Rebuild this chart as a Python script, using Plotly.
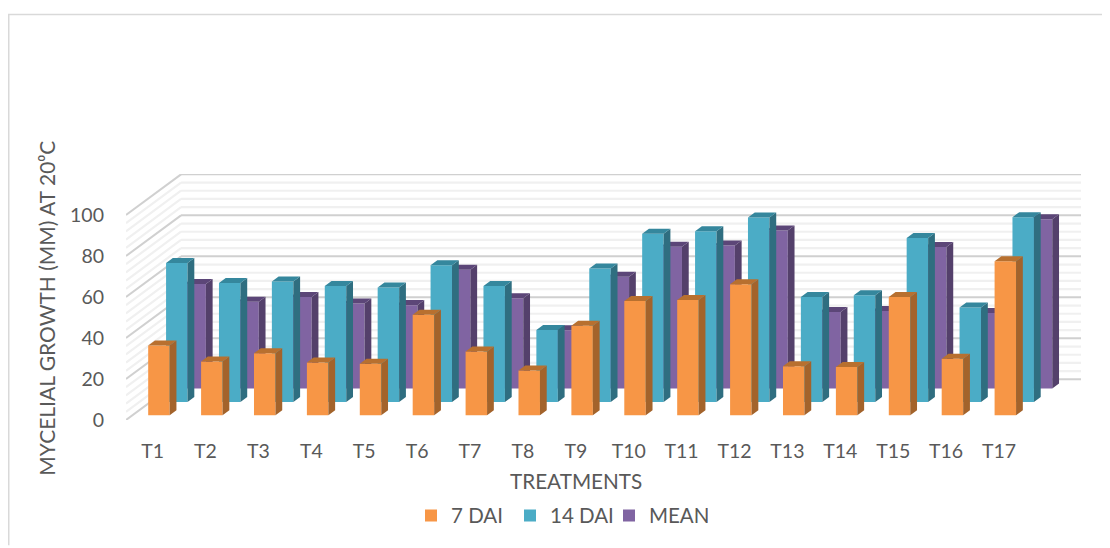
import plotly.graph_objects as go

categories = [f"T{i}" for i in range(1, 18)]
dai_7 = [34.0, 26.3, 30.3, 25.8, 25.2, 49.0, 31.1, 21.9, 43.7, 55.8, 56.3, 63.9, 23.9, 23.6, 57.7, 27.6, 75.2]
dai_14 = [67.8, 58.1, 58.8, 56.6, 55.9, 66.7, 56.6, 35.2, 65.2, 82.1, 83.4, 90.0, 51.3, 52.1, 80.0, 46.2, 90.2]
mean = [51.0, 42.3, 44.7, 41.5, 40.7, 58.0, 44.0, 28.5, 54.5, 69.2, 69.8, 77.1, 37.4, 37.8, 69.0, 36.9, 82.6]
y_major = [0, 20, 40, 60, 80, 100]
y_minor = [v for v in range(0, 100, 4) if v % 20]

PAGE = 8  # the page's own margin round the figure
W, H = 1110 - PAGE, 548 - PAGE
L, R, T, B = 126.0 - PAGE, 1081.0 - PAGE, 173.8 - PAGE, 421.7 - PAGE   # plot area in figure pixels
DX, DY = 1.04, 19.84    # full floor depth, in axis units (x, y)
BAR_W = 0.406
THICK = 0.123           # bar depth as a fraction of the floor depth
FONT = "Lato"
TXT = "#595959"

series = [
    dict(name="7 DAI", vals=dai_7, depth=0.115, ax="3", front="#F79646", side="#A3632B", top="#B8702F"),
    dict(name="14 DAI", vals=dai_14, depth=0.44, ax="2", front="#4BACC6", side="#2F6E80", top="#35879D"),
    dict(name="MEAN", vals=mean, depth=0.773, ax="", front="#8064A2", side="#54406B", top="#5C4678"),
]

fig = go.Figure()
for s in series:
    xa, ya = "x" + s["ax"], "y" + s["ax"]
    off_x, base = s["depth"] * DX, s["depth"] * DY
    tx, ty = THICK * DX, THICK * DY
    xs = [i + off_x for i in range(len(categories))]
    fig.add_trace(go.Bar(
        x=xs, y=s["vals"], base=base, width=BAR_W, name=s["name"], xaxis=xa, yaxis=ya,
        marker=dict(color=s["front"], line=dict(width=0)),
        customdata=categories, hovertemplate="%{customdata}: %{y}<extra>" + s["name"] + "</extra>",
    ))
    sx, sy, qx, qy = [], [], [], []
    for x, v in zip(xs, s["vals"]):
        r, l = x + BAR_W / 2, x - BAR_W / 2
        sx += [r, r + tx, r + tx, r, r, None]
        sy += [base, base + ty, base + ty + v, base + v, base, None]
        qx += [l, r, r + tx, l + tx, l, None]
        qy += [base + v, base + v, base + v + ty, base + v + ty, base + v, None]
    for px, py, col in ((sx, sy, s["side"]), (qx, qy, s["top"])):
        fig.add_trace(go.Scatter(
            x=px, y=py, mode="lines", fill="toself", fillcolor=col, line=dict(width=0, color=col),
            xaxis=xa, yaxis=ya, showlegend=False, hoverinfo="skip",
        ))

x_range = [(126.0 - 152.6) / 52.9, (1081.0 - 152.6) / 52.9]
y_range = [0, 120]

shapes = []
for vals, col, lw in ((y_minor, "#F0F0F0", 2.2), (y_major, "#D0D0D0", 2)):
    for v in vals:
        line = dict(color=col, width=lw)
        shapes.append(dict(type="line", xref="x", yref="y", layer="below", line=line,
                           x0=x_range[0] + DX, x1=x_range[1], y0=v + DY, y1=v + DY))
        shapes.append(dict(type="line", xref="x", yref="y", layer="below", line=line,
                           x0=x_range[0], x1=x_range[0] + DX, y0=v, y1=v + DY))

def px_x(p):
    return (p - PAGE - L) / (R - L)

def px_y(p):
    return (B - (p - PAGE)) / (B - T)

fig.update_layout(
    width=W, height=H, autosize=False,
    margin=dict(l=L, r=W - R, t=T, b=H - B, pad=0),
    paper_bgcolor="white", plot_bgcolor="white",
    barmode="overlay",
    font=dict(family=FONT, size=19.5, color=TXT),
    xaxis=dict(range=x_range, tickmode="array", tickvals=list(range(len(categories))), ticktext=categories,
               showgrid=False, zeroline=False, showline=False, ticks="", ticklabelstandoff=17, fixedrange=True,
               tickfont=dict(family=FONT, size=19.5, color=TXT)),
    yaxis=dict(range=y_range, tickmode="array", tickvals=y_major, showgrid=False, zeroline=False,
               showline=False, ticks="", ticklabelstandoff=21, fixedrange=True,
               tickfont=dict(family=FONT, size=19.5, color=TXT)),
    xaxis2=dict(range=x_range, overlaying="x", visible=False, fixedrange=True),
    yaxis2=dict(range=y_range, overlaying="y", visible=False, fixedrange=True),
    xaxis3=dict(range=x_range, overlaying="x", visible=False, fixedrange=True),
    yaxis3=dict(range=y_range, overlaying="y", visible=False, fixedrange=True),
    legend=dict(orientation="h", xref="paper", yref="paper", xanchor="left", yanchor="middle",
                x=px_x(411), y=px_y(518), font=dict(family=FONT, size=20.5, color=TXT),
                entrywidth=54, entrywidthmode="pixels",
                traceorder="normal", bgcolor="rgba(0,0,0,0)"),
    annotations=[
        dict(text="TREATMENTS", xref="paper", yref="paper", x=px_x(576), y=px_y(483),
             showarrow=False, xanchor="center", yanchor="middle", font=dict(family=FONT, size=20.7, color=TXT)),
        dict(text="MYCELIAL GROWTH (MM) AT 20\u2070C", xref="paper", yref="paper", x=px_x(46.5), y=px_y(309),
             textangle=-90, showarrow=False, xanchor="center", yanchor="middle",
             font=dict(family=FONT, size=21, color=TXT)),
    ],
)

border = dict(color="#D9D9D9", width=3)
fig.add_shape(type="line", xref="paper", yref="paper", line=border,
              x0=px_x(8), x1=px_x(8), y0=px_y(13), y1=px_y(548))
fig.add_shape(type="line", xref="paper", yref="paper", line=dict(color="#D9D9D9", width=1.5),
              x0=px_x(8), x1=px_x(1110), y0=px_y(13), y1=px_y(13))
for sh in shapes:
    fig.add_shape(**sh)

fig.write_html("out.html")
